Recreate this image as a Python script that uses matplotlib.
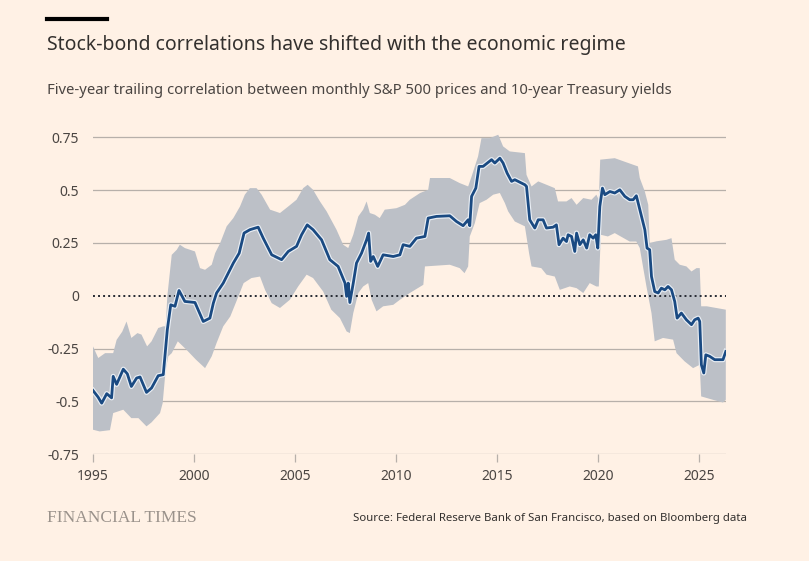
import numpy as np
import matplotlib
matplotlib.use("Agg")
import matplotlib.pyplot as plt
import matplotlib.patheffects as pe

# ---- data ----
line_year = [1995.0, 1995.25, 1995.43, 1995.68, 1995.92, 1996.0, 1996.17, 1996.5, 1996.7, 1996.9,
             1997.16, 1997.33, 1997.65, 1997.9, 1998.23, 1998.48, 1998.68, 1998.85, 1999.06, 1999.26,
             1999.55, 2000.05, 2000.46, 2000.79, 2000.96, 2001.12, 2001.45, 2001.7, 2001.95, 2002.24,
             2002.48, 2002.77, 2003.18, 2003.43, 2003.85, 2004.34, 2004.67, 2005.08, 2005.33, 2005.61,
             2005.9, 2006.32, 2006.73, 2007.14, 2007.48, 2007.56, 2007.64, 2007.72, 2007.89, 2008.05,
             2008.3, 2008.55, 2008.65, 2008.75, 2008.88, 2009.1, 2009.37, 2009.87, 2010.2, 2010.36,
             2010.69, 2011.02, 2011.44, 2011.6, 2012.01, 2012.67, 2013.0, 2013.33, 2013.58, 2013.66,
             2013.75, 2013.96, 2014.12, 2014.32, 2014.74, 2014.9, 2015.15, 2015.31, 2015.51, 2015.73,
             2015.89, 2016.39, 2016.47, 2016.63, 2016.88, 2017.05, 2017.29, 2017.46, 2017.79, 2017.95,
             2018.08, 2018.28, 2018.45, 2018.53, 2018.7, 2018.86, 2018.95, 2019.11, 2019.28, 2019.45,
             2019.6, 2019.77, 2019.9, 2020.0, 2020.1, 2020.23, 2020.35, 2020.6, 2020.84, 2021.09,
             2021.34, 2021.58, 2021.75, 2021.91, 2022.08, 2022.33, 2022.44, 2022.57, 2022.66, 2022.82,
             2022.99, 2023.15, 2023.32, 2023.48, 2023.65, 2023.81, 2023.93, 2024.14, 2024.39, 2024.64,
             2024.8, 2024.97, 2025.05, 2025.13, 2025.25, 2025.35, 2025.54, 2025.79, 2026.2, 2026.34]
line_corr = [-0.449, -0.48, -0.509, -0.464, -0.484, -0.382, -0.42, -0.348, -0.37, -0.43,
             -0.39, -0.385, -0.458, -0.437, -0.379, -0.374, -0.161, -0.043, -0.05, 0.025,
             -0.027, -0.032, -0.122, -0.106, -0.035, 0.013, 0.06, 0.107, 0.155, 0.202,
             0.297, 0.313, 0.325, 0.273, 0.194, 0.171, 0.21, 0.234, 0.289, 0.336,
             0.313, 0.265, 0.171, 0.139, 0.06, -0.003, 0.06, -0.032, 0.06, 0.155,
             0.202, 0.265, 0.297, 0.163, 0.186, 0.139, 0.194, 0.186, 0.194, 0.242,
             0.234, 0.273, 0.281, 0.368, 0.376, 0.379, 0.352, 0.332, 0.36, 0.332,
             0.471, 0.51, 0.613, 0.613, 0.645, 0.629, 0.652, 0.629, 0.581, 0.542,
             0.55, 0.526, 0.518, 0.36, 0.321, 0.36, 0.36, 0.321, 0.325, 0.336,
             0.242, 0.273, 0.257, 0.289, 0.281, 0.21, 0.297, 0.242, 0.265, 0.226,
             0.289, 0.273, 0.289, 0.226, 0.423, 0.51, 0.479, 0.494, 0.487, 0.502,
             0.471, 0.455, 0.455, 0.474, 0.408, 0.313, 0.226, 0.218, 0.091, 0.02,
             0.013, 0.036, 0.028, 0.044, 0.028, -0.027, -0.106, -0.082, -0.114, -0.137,
             -0.114, -0.106, -0.122, -0.327, -0.366, -0.28, -0.287, -0.303, -0.303, -0.264]

upper_year = [1995.0, 1995.26, 1995.6, 1996.0, 1996.17, 1996.45, 1996.66, 1996.9, 1997.2, 1997.4,
              1997.68, 1997.9, 1998.23, 1998.48, 1998.6, 1998.68, 1998.9, 1999.15, 1999.3, 1999.55,
              2000.05, 2000.3, 2000.55, 2000.88, 2001.05, 2001.3, 2001.62, 2001.95, 2002.28, 2002.52,
              2002.77, 2003.1, 2003.35, 2003.77, 2004.26, 2004.67, 2005.08, 2005.41, 2005.63, 2005.9,
              2006.24, 2006.57, 2007.06, 2007.39, 2007.64, 2007.89, 2008.14, 2008.38, 2008.55, 2008.71,
              2008.96, 2009.2, 2009.45, 2010.03, 2010.45, 2010.69, 2011.2, 2011.6, 2011.69, 2012.67,
              2013.16, 2013.58, 2013.75, 2014.07, 2014.24, 2014.65, 2015.07, 2015.31, 2015.64, 2016.39,
              2016.47, 2016.72, 2017.05, 2017.87, 2018.03, 2018.45, 2018.7, 2018.95, 2019.28, 2019.69,
              2019.93, 2020.05, 2020.12, 2020.84, 2021.75, 2021.99, 2022.08, 2022.33, 2022.5, 2022.57,
              2022.9, 2023.4, 2023.65, 2023.81, 2024.06, 2024.39, 2024.64, 2024.89, 2025.05, 2025.12,
              2025.4, 2026.34]
upper_corr = [-0.24, -0.295, -0.272, -0.272, -0.209, -0.17, -0.122, -0.2, -0.177, -0.184,
              -0.24, -0.216, -0.153, -0.145, -0.145, -0.003, 0.194, 0.218, 0.242, 0.226,
              0.21, 0.131, 0.123, 0.147, 0.202, 0.25, 0.329, 0.368, 0.423, 0.479,
              0.51, 0.51, 0.479, 0.408, 0.392, 0.423, 0.455, 0.51, 0.526, 0.502,
              0.447, 0.4, 0.313, 0.242, 0.226, 0.289, 0.376, 0.408, 0.447, 0.392,
              0.384, 0.368, 0.408, 0.415, 0.431, 0.455, 0.487, 0.502, 0.558, 0.558,
              0.534, 0.518, 0.565, 0.66, 0.747, 0.747, 0.763, 0.708, 0.684, 0.676,
              0.573, 0.518, 0.542, 0.51, 0.447, 0.447, 0.463, 0.431, 0.463, 0.455,
              0.479, 0.455, 0.645, 0.652, 0.621, 0.613, 0.558, 0.494, 0.431, 0.25,
              0.258, 0.265, 0.273, 0.171, 0.147, 0.139, 0.115, 0.131, 0.131, -0.05,
              -0.05, -0.066]

lower_year = [1995.0, 1995.33, 1995.84, 1996.0, 1996.5, 1996.9, 1997.25, 1997.65, 1997.9, 1998.32,
              1998.45, 1998.6, 1998.73, 1998.9, 1999.2, 1999.63, 2000.1, 2000.55, 2000.88, 2001.12,
              2001.45, 2001.8, 2002.1, 2002.46, 2002.85, 2003.27, 2003.52, 2003.85, 2004.26, 2004.75,
              2005.16, 2005.58, 2005.9, 2006.4, 2006.8, 2007.23, 2007.56, 2007.72, 2007.89, 2008.14,
              2008.38, 2008.63, 2008.8, 2009.04, 2009.37, 2009.87, 2010.2, 2010.69, 2011.36, 2011.44,
              2012.67, 2013.16, 2013.4, 2013.58, 2013.66, 2013.91, 2014.15, 2014.49, 2014.82, 2015.15,
              2015.4, 2015.56, 2015.89, 2016.39, 2016.6, 2016.72, 2017.2, 2017.46, 2017.87, 2018.12,
              2018.61, 2018.95, 2019.28, 2019.6, 2019.93, 2020.05, 2020.15, 2020.5, 2020.84, 2021.58,
              2021.91, 2022.08, 2022.41, 2022.66, 2022.82, 2023.23, 2023.73, 2023.9, 2024.3, 2024.72,
              2025.05, 2025.12, 2025.7, 2026.2, 2026.34]
lower_corr = [-0.635, -0.643, -0.637, -0.556, -0.54, -0.58, -0.58, -0.619, -0.6, -0.556,
              -0.509, -0.35, -0.287, -0.272, -0.216, -0.256, -0.303, -0.343, -0.287, -0.224,
              -0.145, -0.098, -0.027, 0.06, 0.084, 0.091, 0.028, -0.035, -0.058, -0.019,
              0.044, 0.1, 0.084, 0.02, -0.066, -0.106, -0.169, -0.177, -0.082, 0.013,
              0.044, 0.06, -0.019, -0.074, -0.05, -0.043, -0.019, 0.013, 0.052, 0.139,
              0.147, 0.131, 0.107, 0.139, 0.281, 0.344, 0.439, 0.455, 0.479, 0.487,
              0.439, 0.4, 0.352, 0.329, 0.2, 0.139, 0.131, 0.1, 0.091, 0.028,
              0.044, 0.036, 0.013, 0.06, 0.044, 0.044, 0.289, 0.281, 0.297, 0.257,
              0.257, 0.226, 0.044, -0.082, -0.216, -0.2, -0.208, -0.272, -0.311, -0.343,
              -0.327, -0.477, -0.493, -0.506, -0.493]

y_ticks = [-0.75, -0.5, -0.25, 0, 0.25, 0.5, 0.75]
y_labels = ["-0.75", "-0.5", "-0.25", "0", "0.25", "0.5", "0.75"]
x_ticks = [1995, 2000, 2005, 2010, 2015, 2020, 2025]
x_labels = ["1995", "2000", "2005", "2010", "2015", "2020", "2025"]

title = "Stock-bond correlations have shifted with the economic regime"
subtitle = "Five-year trailing correlation between monthly S&P 500 prices and 10-year Treasury yields"
source = "Source: Federal Reserve Bank of San Francisco, based on Bloomberg data"
brand = "FINANCIAL TIMES"

# ---- styling ----
BG = "#fff1e5"
W, H = 809, 561
fig = plt.figure(figsize=(W / 100, H / 100), dpi=100, facecolor=BG)

def fx(px):
    return px / W

def fy(py):
    return 1 - py / H

x0, x1 = 93, 726
ylo, yhi = -0.75, 0.78
y_bot = 454
px_per_unit = 211.0
y_top = y_bot - (yhi - ylo) * px_per_unit
ax = fig.add_axes([fx(x0), fy(y_bot), (x1 - x0) / W, (y_bot - y_top) / H])
ax.set_facecolor(BG)
ax.set_xlim(1995, 2026.35)
ax.set_ylim(ylo, yhi)

for s in ax.spines.values():
    s.set_visible(False)

# gridlines
for t in y_ticks:
    if t == 0:
        continue
    ax.axhline(t, color="#b7b0aa", lw=0.9, zorder=1)

# band
bx = np.concatenate([upper_year, lower_year[::-1]])
by = np.concatenate([upper_corr, lower_corr[::-1]])
ax.fill(bx, by, color="#bcc0c7", lw=0, zorder=2)

# zero line
ax.axhline(0, color="#262a33", lw=1.4, ls=(0, (1, 1.6)), zorder=3)

# main line with halo
ax.plot(line_year, line_corr, color="#1a4a82", lw=2.0, zorder=4, solid_joinstyle="round",
        path_effects=[pe.Stroke(linewidth=3.7, foreground="#e9eef4"), pe.Normal()])

ax.set_yticks(y_ticks)
ax.set_yticklabels(y_labels)
ax.set_xticks(x_ticks)
ax.set_xticklabels(x_labels)
ax.tick_params(axis="y", length=0, pad=10, labelsize=10, labelcolor="#4a4542")
ax.tick_params(axis="x", length=6, width=0.9, color="#b7b0aa", pad=5, labelsize=10, labelcolor="#4a4542")
for lab in ax.get_yticklabels() + ax.get_xticklabels():
    lab.set_family("Noto Sans")

# header / footer
fig.add_artist(plt.Line2D([fx(47), fx(107)], [fy(18.5), fy(18.5)], color="#000000", lw=3.0))
fig.text(fx(47), fy(45), title, fontsize=14.0, color="#33302e", family="Noto Sans",
         va="center", ha="left")
fig.text(fx(47), fy(91), subtitle, fontsize=10.7, color="#4a4542", family="Noto Sans",
         va="center", ha="left")
fig.text(fx(47), fy(518), brand, fontsize=12.5, color="#9a928b", family="Liberation Serif",
         va="center", ha="left")
fig.text(fx(747), fy(519), source, fontsize=8.2, color="#33302e", family="Noto Sans",
         va="center", ha="right")

fig.savefig("out.png", dpi=100, facecolor=BG)
